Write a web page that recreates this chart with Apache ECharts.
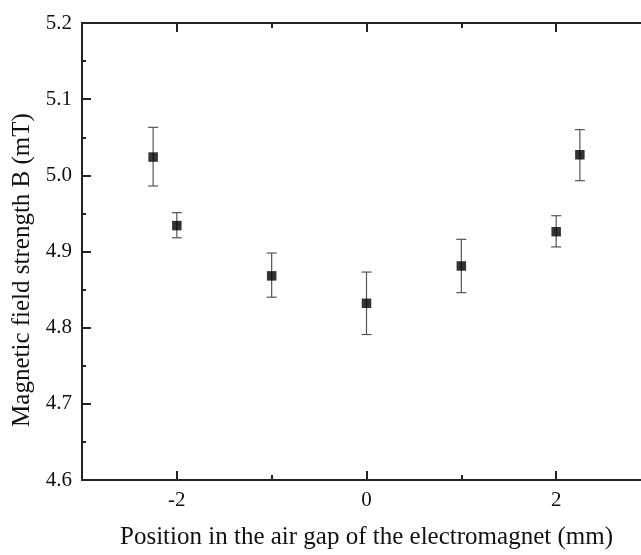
<!DOCTYPE html>
<html>
<head>
<meta charset="utf-8">
<script src="https://cdn.jsdelivr.net/npm/echarts@6/dist/echarts.min.js"></script>
<style>
html,body{margin:0;padding:0;background:#fff;overflow:hidden;width:641px;height:555px;}
#chart{width:660px;height:555px;}
</style>
</head>
<body>
<div id="chart"></div>
<script>
// Data
const positions = [-2.25, -2, -1, 0, 1, 2, 2.25];
const fieldValues = [5.024, 4.934, 4.868, 4.832, 4.881, 4.926, 5.027];
const errLow = [4.986, 4.918, 4.840, 4.791, 4.846, 4.906, 4.993];
const errHigh = [5.063, 4.951, 4.898, 4.873, 4.916, 4.947, 5.060];
const xMajorTicks = [-2, 0, 2];
const xMinorTicks = [-3, -1, 1, 3];
const xTitle = 'Position in the air gap of the electromagnet (mm)';
const yTitle = 'Magnetic field strength B (mT)';

const FONT = '"Liberation Serif", "Times New Roman", serif';
const AX = '#222';

const points = positions.map((x, i) => [x, fieldValues[i]]);
const errData = positions.map((x, i) => [x, errLow[i], errHigh[i]]);

function xAxisDef(pos, ticks, len, showLabel, showLine, extra) {
  return Object.assign({
    type: 'value', position: pos, min: -3, max: 3, gridIndex: 0,
    axisLine: { show: showLine, onZero: false, lineStyle: { color: AX, width: 2 } },
    axisTick: { show: true, inside: true, length: len, customValues: ticks, lineStyle: { color: AX, width: 2 } },
    axisLabel: { show: showLabel, customValues: ticks, margin: 10, color: '#111', fontFamily: FONT, fontSize: 21,
                 formatter: v => String(v) },
    splitLine: { show: false }
  }, extra || {});
}

const chart = echarts.init(document.getElementById('chart'), null, { renderer: 'canvas' });
chart.setOption({
  backgroundColor: '#fff',
  animation: false,
  grid: { left: 82, right: 9, top: 23, bottom: 70, containLabel: false },
  xAxis: [
    xAxisDef('bottom', xMajorTicks, 9, true, true, {
      name: xTitle, nameLocation: 'middle', nameGap: 45,
      nameTextStyle: { fontFamily: FONT, fontSize: 25, color: '#111' }
    }),
    xAxisDef('bottom', xMinorTicks, 5, false, false),
    xAxisDef('top', xMajorTicks, 9, false, true),
    xAxisDef('top', xMinorTicks, 5, false, false)
  ],
  yAxis: [
    {
      type: 'value', position: 'left', min: 4.6, max: 5.2, interval: 0.1,
      axisLine: { show: true, onZero: false, lineStyle: { color: AX, width: 2 } },
      axisTick: { show: true, inside: true, length: 9, lineStyle: { color: AX, width: 2 } },
      minorTick: { show: true, splitNumber: 2, length: 4, lineStyle: { color: AX, width: 2 } },
      axisLabel: { margin: 10, color: '#111', fontFamily: FONT, fontSize: 21, formatter: v => v.toFixed(1) },
      splitLine: { show: false }, minorSplitLine: { show: false }
    },
    {
      type: 'value', position: 'right', min: 4.6, max: 5.2, interval: 0.1,
      axisLine: { show: true, onZero: false, lineStyle: { color: AX, width: 2 } },
      axisTick: { show: true, inside: true, length: 9, lineStyle: { color: '#ccc', width: 1 } },
      minorTick: { show: true, splitNumber: 2, length: 4, lineStyle: { color: '#ccc', width: 1 } },
      axisLabel: { show: false }, splitLine: { show: false }
    }
  ],
  graphic: [{
    type: 'text', x: 22, y: 270, rotation: Math.PI / 2,
    style: { text: yTitle, font: '25px ' + FONT, fill: '#111', align: 'center', verticalAlign: 'middle' }
  }],
  series: [
    {
      type: 'custom', xAxisIndex: 0, yAxisIndex: 0, data: errData, z: 2,
      renderItem: function (params, api) {
        const x = api.value(0);
        const lo = api.coord([x, api.value(1)]);
        const hi = api.coord([x, api.value(2)]);
        const w = 5;
        const st = { stroke: '#555', lineWidth: 1.2 };
        return {
          type: 'group', children: [
            { type: 'line', shape: { x1: lo[0], y1: lo[1], x2: hi[0], y2: hi[1] }, style: st },
            { type: 'line', shape: { x1: lo[0] - w, y1: lo[1], x2: lo[0] + w, y2: lo[1] }, style: st },
            { type: 'line', shape: { x1: hi[0] - w, y1: hi[1], x2: hi[0] + w, y2: hi[1] }, style: st }
          ]
        };
      }
    },
    {
      type: 'scatter', xAxisIndex: 0, yAxisIndex: 0, data: points, z: 3,
      symbol: 'rect', symbolSize: 9.5, itemStyle: { color: '#000' }
    }
  ]
});
</script>
</body>
</html>
